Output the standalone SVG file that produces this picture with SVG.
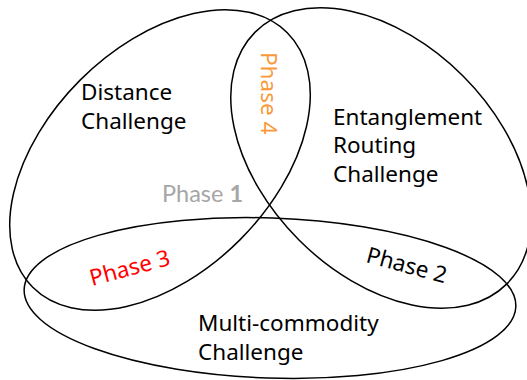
<svg xmlns="http://www.w3.org/2000/svg" width="527" height="380" viewBox="0 0 527 380">
<style>
.e{fill:none;stroke:#000;stroke-width:1.5}
.t{font-family:"Noto Sans","Open Sans",sans-serif;font-size:22.5px;fill:#000}
.p1{font-family:Lato,"Noto Sans",sans-serif;font-size:23.5px;fill:#a6a6a6}
</style>
<rect width="527" height="380" fill="#fff"/>
<g id="connectors"></g>
<g id="distance">
<ellipse class="e" cx="160" cy="160" rx="180" ry="113" transform="rotate(-45 160 160)"/>
<text class="t" x="81" y="100">Distance</text>
<text class="t" x="81" y="129">Challenge</text>
</g>
<g id="entanglement">
<ellipse class="e" cx="381" cy="158" rx="178" ry="116" transform="rotate(45 381 158)"/>
<text class="t" x="333" y="125">Entanglement</text>
<text class="t" x="333" y="153">Routing</text>
<text class="t" x="333" y="182">Challenge</text>
</g>
<g id="multicommodity">
<ellipse class="e" cx="270" cy="298" rx="246" ry="80" transform="rotate(2 270 298)"/>
<text class="t" x="198" y="331">Multi-commodity</text>
<text class="t" x="198" y="360">Challenge</text>
</g>
<g id="phase1"><text class="p1" x="162" y="202">Phase <tspan font-weight="bold">1</tspan></text></g>
<g id="phase4"><text class="t" style="fill:#f8993a" transform="translate(261 52) rotate(90)">Phase 4</text></g>
<g id="phase3"><text class="t" style="fill:#ff0000" transform="translate(92 286) rotate(-15)">Phase 3</text></g>
<g id="phase2"><text class="t" transform="translate(365 262) rotate(15)">Phase 2</text></g>
</svg>
